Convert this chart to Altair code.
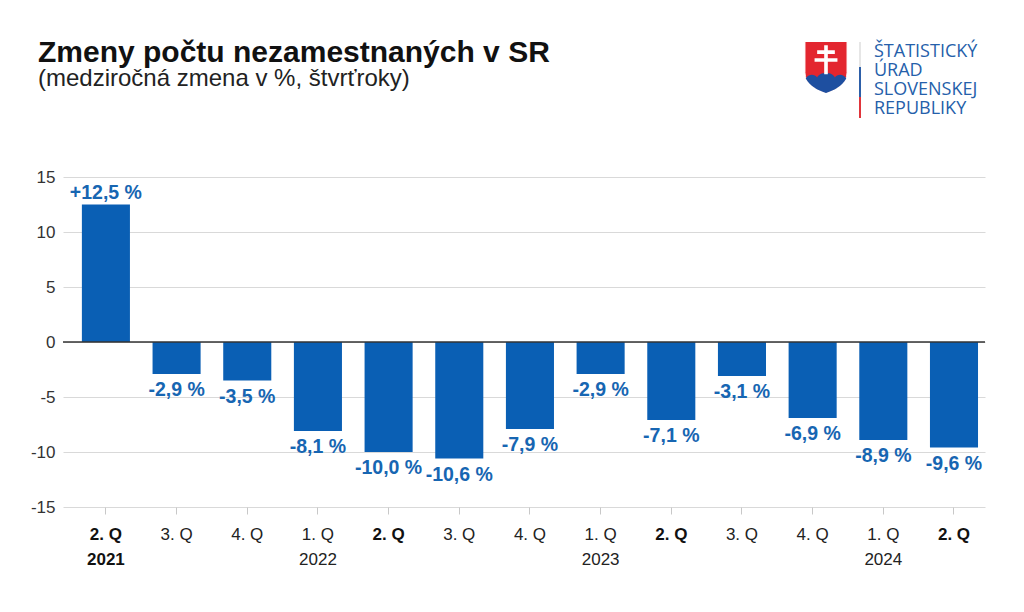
import altair as alt
import pandas as pd

quarters = ["2. Q", "3. Q", "4. Q", "1. Q", "2. Q", "3. Q", "4. Q",
            "1. Q", "2. Q", "3. Q", "4. Q", "1. Q", "2. Q"]
years = ["2021", "", "", "2022", "", "", "", "2023", "", "", "", "2024", ""]
period_year = ["2021", "2021", "2021", "2022", "2022", "2022", "2022",
               "2023", "2023", "2023", "2023", "2024", "2024"]
values = [12.5, -2.9, -3.5, -8.1, -10.0, -10.6, -7.9, -2.9, -7.1, -3.1, -6.9, -8.9, -9.6]
y_ticks = [-15, -10, -5, 0, 5, 10, 15]

title = "Zmeny počtu nezamestnaných v SR"
subtitle = "(medziročná zmena v %, štvrťroky)"
logo_lines = ["ŠTATISTICKÝ", "ÚRAD", "SLOVENSKEJ", "REPUBLIKY"]

keys = [f"{y} {q}" for y, q in zip(period_year, quarters)]
labels = [f"{v:+.1f}".replace(".", ",") + " %" for v in values]
bold = [q == "2. Q" for q in quarters]

df = pd.DataFrame({"key": keys, "value": values, "quarter": quarters,
                   "year": years, "label": labels, "bold": bold})

BLUE = "#0a5fb4"
LBLUE = "#1766b2"
FONT = "Liberation Sans"
W, H = 922, 330

xenc = alt.X("key:N", sort=keys, title=None,
             scale=alt.Scale(paddingInner=0.32, paddingOuter=0.183, align=0.73),
             axis=alt.Axis(labels=False, domain=False, ticks=True, tickSize=7,
                           tickColor="#c8c8c8", grid=False))

base = alt.Chart(df)

bars = base.mark_bar(color=BLUE).encode(
    x=xenc,
    y=alt.Y("value:Q", title=None,
            scale=alt.Scale(domain=[-15, 15], nice=False, zero=True),
            axis=alt.Axis(values=y_ticks, labelExpr="datum.value", domain=False,
                          ticks=False, labelPadding=8, labelFontSize=17,
                          labelColor="#333333", labelFont=FONT,
                          gridColor="#d9d9d9", gridWidth=1)),
)

zero = alt.Chart(pd.DataFrame({"z": [0]})).mark_rule(color="#333333", strokeWidth=1.5).encode(
    y=alt.Y("z:Q"))

pos_lab = base.transform_filter("datum.value >= 0").mark_text(
    font=FONT, fontSize=19.5, fontWeight="bold", color=LBLUE, baseline="middle", dy=-12
).encode(x=alt.X("key:N", sort=keys), y="value:Q", text="label:N")

neg_lab = base.transform_filter("datum.value < 0").mark_text(
    font=FONT, fontSize=19.5, fontWeight="bold", color=LBLUE, baseline="middle", dy=16
).encode(x=alt.X("key:N", sort=keys), y="value:Q", text="label:N")

q_norm = base.transform_filter("!datum.bold").mark_text(
    font=FONT, fontSize=17, color="#222222", baseline="middle"
).encode(x=alt.X("key:N", sort=keys), y=alt.value(H + 28), text="quarter:N")
q_bold = base.transform_filter("datum.bold").mark_text(
    font=FONT, fontSize=17, fontWeight="bold", color="#111111", baseline="middle"
).encode(x=alt.X("key:N", sort=keys), y=alt.value(H + 28), text="quarter:N")
y_norm = base.transform_filter("datum.year != '' && !datum.bold").mark_text(
    font=FONT, fontSize=17, color="#222222", baseline="middle"
).encode(x=alt.X("key:N", sort=keys), y=alt.value(H + 53), text="year:N")
y_bold = base.transform_filter("datum.year != '' && datum.bold").mark_text(
    font=FONT, fontSize=17, fontWeight="bold", color="#111111", baseline="middle"
).encode(x=alt.X("key:N", sort=keys), y=alt.value(H + 53), text="year:N")

tdf = pd.DataFrame({"t": [title]})
title_m = alt.Chart(tdf).mark_text(
    font=FONT, fontSize=30, fontWeight="bold", color="#111111", align="left",
    baseline="alphabetic").encode(x=alt.value(-25), y=alt.value(-115), text="t:N")
sdf = pd.DataFrame({"t": [subtitle]})
sub_m = alt.Chart(sdf).mark_text(
    font=FONT, fontSize=24, color="#222222", align="left",
    baseline="alphabetic").encode(x=alt.value(-25), y=alt.value(-91), text="t:N")

# logo
one = pd.DataFrame({"a": [0]})
logo_txt = alt.Chart(one).mark_text(
    font="Open Sans", fontSize=18, color="#2560aa", align="left", baseline="alphabetic",
    lineHeight=19, text=logo_lines
).encode(x=alt.value(811), y=alt.value(-120))

seg_white = alt.Chart(one).mark_rule(color="#e6e6e6", strokeWidth=2).encode(
    x=alt.value(797), y=alt.value(-135), y2=alt.value(-110))
seg_blue = alt.Chart(one).mark_rule(color="#2d5fa8", strokeWidth=2).encode(
    x=alt.value(797), y=alt.value(-110), y2=alt.value(-80))
seg_red = alt.Chart(one).mark_rule(color="#e0353b", strokeWidth=2).encode(
    x=alt.value(797), y=alt.value(-80), y2=alt.value(-59))

shield_path = "M-0.81,-1 L0.81,-1 L0.81,0.2 C0.81,0.62 0.38,0.84 0,0.98 C-0.38,0.84 -0.81,0.62 -0.81,0.2 Z"
hills_path = ("M-0.78,0.42 C-0.68,0.24 -0.44,0.24 -0.34,0.38 C-0.24,0.16 0.24,0.16 0.34,0.38 "
              "C0.44,0.24 0.68,0.24 0.78,0.42 C0.6,0.72 0.34,0.86 0,0.98 "
              "C-0.34,0.86 -0.6,0.72 -0.78,0.42 Z")
cross_path = ("M-0.07,-0.86 L0.07,-0.86 L0.07,-0.66 L0.34,-0.66 L0.34,-0.52 L0.07,-0.52 "
              "L0.07,-0.36 L0.44,-0.36 L0.44,-0.22 L0.07,-0.22 L0.07,0.26 L-0.07,0.26 "
              "L-0.07,-0.22 L-0.44,-0.22 L-0.44,-0.36 L-0.07,-0.36 L-0.07,-0.52 "
              "L-0.34,-0.52 L-0.34,-0.66 L-0.07,-0.66 Z")
SH = 52 * 52
shield = alt.Chart(one).mark_point(shape=shield_path, filled=True, size=SH, color="#e3262f",
                                   opacity=1, stroke="white", strokeWidth=1).encode(
    x=alt.value(763), y=alt.value(-109.5))
hills = alt.Chart(one).mark_point(shape=hills_path, filled=True, size=SH, color="#1e4fa0",
                                  opacity=1, strokeWidth=0).encode(
    x=alt.value(763), y=alt.value(-109.5))
cross = alt.Chart(one).mark_point(shape=cross_path, filled=True, size=SH, color="white",
                                  opacity=1, strokeWidth=0).encode(
    x=alt.value(763), y=alt.value(-109.5))

chart = alt.layer(
    bars, zero, pos_lab, neg_lab, q_norm, q_bold, y_norm, y_bold,
    title_m, sub_m, logo_txt, seg_white, seg_blue, seg_red, shield, hills, cross
).properties(
    width=W, height=H,
    autosize=alt.AutoSizeParams(type="none"),
    padding={"left": 55, "top": 169, "right": 31, "bottom": 97},
    background="white",
).configure_view(stroke=None)

chart.save("out.html", embed_options={"renderer": "svg", "actions": False})
